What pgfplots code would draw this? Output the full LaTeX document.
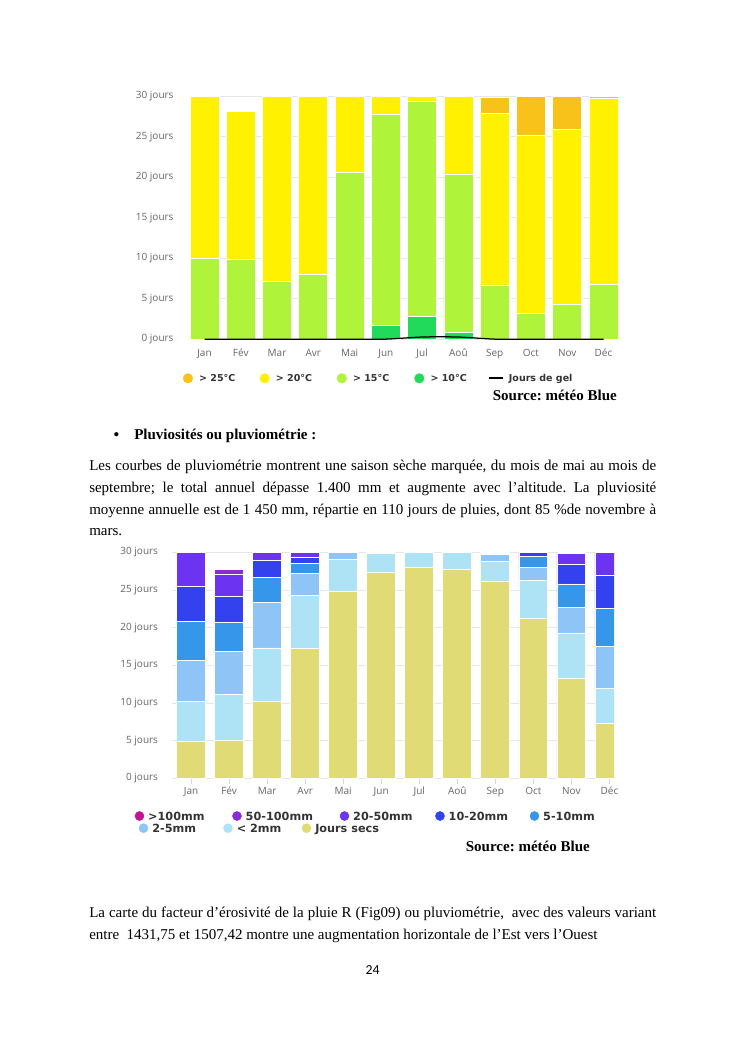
\documentclass[border=0pt]{standalone}
\usepackage{pgfplots}
\usepackage{pgfplotstable}
\pgfplotsset{compat=1.18}
\usepackage{fontspec}
\setmainfont{Liberation Serif}
\newfontfamily\axfont{Open Sans}
\newfontfamily\legfont{DejaVu Sans}
\newfontfamily\pgnum{Carlito}
\frenchspacing

% couleurs du graphique des temperatures
\definecolor{tA}{HTML}{F9C21B}
\definecolor{tB}{HTML}{FFF100}
\definecolor{tC}{HTML}{AFF33B}
\definecolor{tD}{HTML}{21DA5B}
% couleurs du graphique des precipitations
\definecolor{pSec}{HTML}{E1DB75}
\definecolor{pLt2}{HTML}{AEE2F5}
\definecolor{pB}{HTML}{8EC5F6}
\definecolor{pC}{HTML}{3596EA}
\definecolor{pD}{HTML}{3441EF}
\definecolor{pE}{HTML}{6C33F1}
\definecolor{pF}{HTML}{8B2AD6}
\definecolor{pG}{HTML}{C0158F}
\definecolor{gridc}{HTML}{E6E6E6}
\definecolor{tickc}{HTML}{666666}
\definecolor{legc}{HTML}{333333}
\definecolor{tickline}{HTML}{CCD6EB}

% jours par mois et par classe de temperature
\pgfplotstableread{
m  t10  t15  t20  t25  gel
0  0    10.0 20.0 0    0
1  0    9.8  18.3 0    0
2  0    7.1  22.9 0    0
3  0    8.0  22.0 0    0
4  0    20.6 9.4  0    0
5  1.7  26.0 2.3  0    0.02
6  2.8  26.6 0.6  0    0.28
7  0.9  19.5 9.6  0    0.28
8  0    6.7  21.2 1.9  0.02
9  0    3.2  22.0 4.8  0
10 0    4.3  21.6 4.1  0
11 0    6.8  22.9 0.3  0
}\chaleur

% jours par mois et par classe de precipitation
\pgfplotstableread{
m  sec  lt2  p2  p5  p10 p20 p50 p100
0  4.9  5.3  5.5 5.1 4.7 4.5 0   0
1  5.0  6.1  5.7 3.9 3.4 3.0 0.6 0
2  10.2 7.1  6.1 3.3 2.2 1.1 0   0
3  17.2 7.1  2.9 1.3 0.8 0.7 0   0
4  24.8 4.3  0.9 0   0   0   0   0
5  27.3 2.6  0.1 0   0   0   0   0
6  28.0 2.0  0   0   0   0   0   0
7  27.7 2.3  0   0   0   0   0   0
8  26.2 2.6  0.9 0.1 0.2 0   0   0
9  21.2 5.1  1.7 1.4 0.6 0   0   0
10 13.2 6.1  3.4 3.1 2.6 1.4 0.2 0
11 7.3  4.6  5.6 5.1 4.4 3.0 0   0
}\pluie

\pgfplotsset{
  geomA/.style={at={(152pt,-271.44pt)}, anchor=south west, scale only axis,
    width=342.4pt, height=194.6pt, xmin=-0.4, xmax=11.4, ymin=0, ymax=30},
  geomB/.style={at={(137.6pt,-622.64pt)}, anchor=south west, scale only axis,
    width=353.6pt, height=180.8pt, xmin=-0.5, xmax=11.12, ymin=0, ymax=30},
  hc/.style={ybar stacked, axis line style={draw=none},
    ymajorgrids, grid style={color=gridc, line width=0.7pt},
    ytick={0,5,...,30},
    yticklabels={0 jours,5 jours,10 jours,15 jours,20 jours,25 jours,30 jours},
    xtick={0,...,11},
    xticklabels={Jan,Fév,Mar,Avr,Mai,Jun,Jul,Aoû,Sep,Oct,Nov,Déc},
    ticklabel style={font=\axfont\fontsize{8}{9}\selectfont, text=tickc, inner sep=0pt},
    yticklabel style={anchor=east},
    xticklabel style={anchor=base},
    every axis plot/.append style={draw=white, line width=0.6pt}},
  leg/.style={legend columns=-1, legend cell align=left,
    legend style={draw=none, fill=none, anchor=west, inner sep=0pt, outer sep=0pt,
      nodes={inner sep=0pt, text depth=0pt}, text=legc,
      /tikz/every even column/.style={column sep=0pt},
      /tikz/every odd column/.style={column sep=0pt}}},
  dotA/.style={legend image code/.code={\fill[#1] (3.8pt,0pt) circle (3.8pt); \path (0pt,0pt) (12.6pt,0pt);}},
  dotB/.style={legend image code/.code={\fill[#1] (3.6pt,0pt) circle (3.6pt); \path (0pt,0pt) (10.4pt,0pt);}},
}

\newcommand\jline[2]{\node[txt] at (89,#1) {\hbox to 453.6pt{#2}};}

\begin{document}
\begin{tikzpicture}
\useasboundingbox (0pt,0pt) rectangle (596pt,-842.4pt);
\fill[white] (0pt,0pt) rectangle (596pt,-842.4pt);

% --- temperatures ---
\begin{axis}[geomA, hc, bar width=0.8, major tick length=0pt,
  yticklabel style={xshift=-13pt}, xticklabel style={yshift=-13.4pt}]
\addplot[fill=tD] table[x=m,y=t10]{\chaleur};
\addplot[fill=tC] table[x=m,y=t15]{\chaleur};
\addplot[fill=tB] table[x=m,y=t20]{\chaleur};
\addplot[fill=tA] table[x=m,y=t25]{\chaleur};
\end{axis}
\begin{axis}[geomA, hide axis, clip=false, leg,
  legend style={at={(-0.0165,-0.1605)}, font=\legfont\bfseries\fontsize{7.6}{8}\selectfont}]
\addplot[forget plot, black, line width=1pt, smooth, tension=0.5] table[x=m,y=gel]{\chaleur};
\addlegendimage{dotA=tA}\addlegendentry{\makebox[48.4pt][l]{> 25°C}}
\addlegendimage{dotA=tB}\addlegendentry{\makebox[48.7pt][l]{> 20°C}}
\addlegendimage{dotA=tC}\addlegendentry{\makebox[49pt][l]{> 15°C}}
\addlegendimage{dotA=tD}\addlegendentry{\makebox[46.2pt][l]{> 10°C}}
\addlegendimage{legend image code/.code={\draw[black,line width=1.8pt] (0pt,0pt)--(10.6pt,0pt); \path (0pt,0pt) (15.4pt,0pt);}}
\addlegendentry{Jours de gel}
\end{axis}

% --- precipitations ---
\begin{axis}[geomB, hc, bar width=0.76,
  xtick pos=bottom, xtick align=outside, major tick length=4.8pt,
  xtick style={draw=tickline, line width=0.8pt}, ytick style={draw=none},
  yticklabel style={xshift=-11pt}, xticklabel style={yshift=-8pt}]
\addplot[fill=pSec] table[x=m,y=sec]{\pluie};
\addplot[fill=pLt2] table[x=m,y=lt2]{\pluie};
\addplot[fill=pB] table[x=m,y=p2]{\pluie};
\addplot[fill=pC] table[x=m,y=p5]{\pluie};
\addplot[fill=pD] table[x=m,y=p10]{\pluie};
\addplot[fill=pE] table[x=m,y=p20]{\pluie};
\addplot[fill=pF] table[x=m,y=p50]{\pluie};
\addplot[fill=pG] table[x=m,y=p100]{\pluie};
\end{axis}
\begin{axis}[geomB, hide axis, leg,
  legend style={at={(-0.0843,-0.1668)}, font=\legfont\bfseries\fontsize{9}{10}\selectfont}]
\addlegendimage{dotB=pG}\addlegendentry{\makebox[67.2pt][l]{>100mm}}
\addlegendimage{dotB=pF}\addlegendentry{\makebox[75.2pt][l]{50-100mm}}
\addlegendimage{dotB=pE}\addlegendentry{\makebox[65.6pt][l]{20-50mm}}
\addlegendimage{dotB=pD}\addlegendentry{\makebox[64.8pt][l]{10-20mm}}
\addlegendimage{dotB=pC}\addlegendentry{5-10mm}
\end{axis}
\begin{axis}[geomB, hide axis, leg,
  legend style={at={(-0.0752,-0.2208)}, font=\legfont\bfseries\fontsize{9}{10}\selectfont}]
\addlegendimage{dotB=pB}\addlegendentry{\makebox[56.8pt][l]{2-5mm}}
\addlegendimage{dotB=pLt2}\addlegendentry{\makebox[52pt][l]{< 2mm}}
\addlegendimage{dotB=pSec}\addlegendentry{Jours secs}
\end{axis}

% --- texte de la page ---
\begin{scope}[x=0.8pt, y=-0.8pt,
  txt/.style={anchor=base west, inner sep=0pt, font=\fontsize{12}{14}\selectfont}]
\node[txt, anchor=base east, font=\bfseries\fontsize{12}{14}\selectfont] at (617,400) {Source: météo Blue};
\node[txt, font=\fontsize{14}{14}\selectfont] at (113,440) {•};
\node[txt, font=\bfseries\fontsize{12}{14}\selectfont] at (134,439.5) {Pluviosités ou pluviométrie :};
\jline{470.5}{Les courbes de pluviométrie montrent une saison sèche marquée, du mois de mai au mois de}
\jline{492.5}{septembre; le total annuel dépasse 1.400 mm et augmente avec l'altitude. La pluviosité}
\jline{514.5}{moyenne annuelle est de 1 450 mm, répartie en 110 jours de pluies, dont 85 \%de novembre à}
\node[txt] at (89,535.5) {mars.};
\node[txt, anchor=base east, font=\bfseries\fontsize{12}{14}\selectfont] at (590,851) {Source: météo Blue};
\jline{917}{La carte du facteur d’érosivité de la pluie R (Fig09) ou pluviométrie,\ \ avec des valeurs variant}
\node[txt] at (89,939) {entre\ \ 1431,75 et 1507,42 montre une augmentation horizontale de l’Est vers l’Ouest};
\node[anchor=base, inner sep=0pt, font=\pgnum\fontsize{11}{13}\selectfont] at (372.5,974) {24};
\end{scope}
\end{tikzpicture}
\end{document}
